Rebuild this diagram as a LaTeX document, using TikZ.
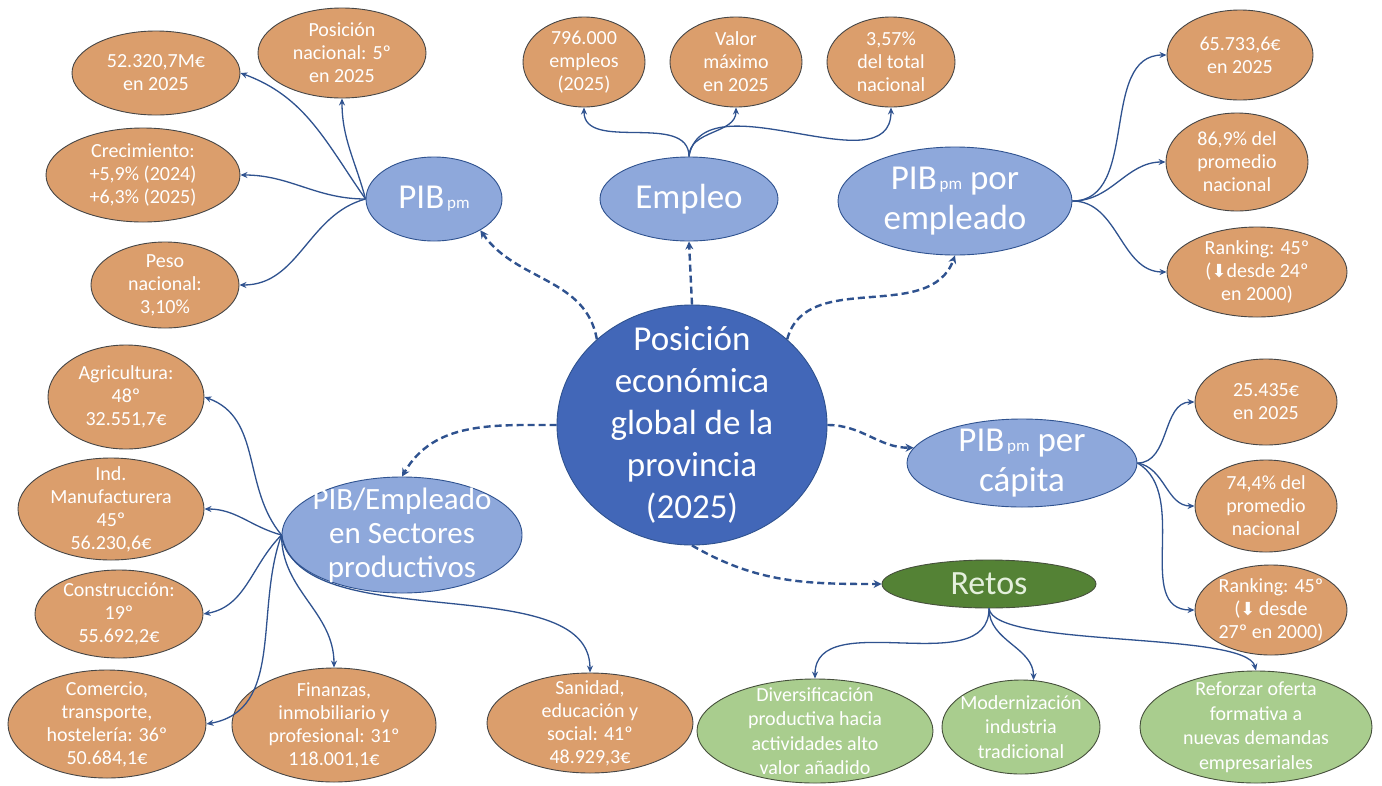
\documentclass[tikz,border=0pt]{standalone}
\usepackage{fontspec}
\setmainfont{Carlito}
\newfontfamily\djv{DejaVu Sans}
\usetikzlibrary{shapes.geometric,arrows.meta}
\definecolor{ofill}{RGB}{219,158,108}
\definecolor{odraw}{RGB}{70,70,70}
\definecolor{bfill}{RGB}{142,168,219}
\definecolor{cfill}{RGB}{66,103,184}
\definecolor{bdraw}{RGB}{47,82,143}
\definecolor{gdark}{RGB}{84,130,53}
\definecolor{glight}{RGB}{169,205,142}
\definecolor{gdraw}{RGB}{70,80,60}
\definecolor{gtext}{RGB}{228,240,220}
\definecolor{lnc}{RGB}{47,82,143}
\newcommand{\pmsub}{{\fontsize{17}{17}\selectfont\,pm}}
\tikzset{
  sz/.style 2 args={minimum width=#1, minimum height=#2},
  base/.style={ellipse, inner sep=-40pt, align=center, line width=0.9pt},
  orn/.style={base, draw=odraw, fill=ofill, text=white, font=\fontsize{20}{23}\selectfont},
  grn/.style={base, draw=gdraw, fill=glight, text=white, font=\fontsize{20}{24.5}\selectfont},
  lvl/.style={base, draw=bdraw, fill=bfill, text=white, font=\fontsize{35}{40}\selectfont},
  ctr/.style={base, draw=bdraw, fill=cfill, text=white, font=\fontsize{35}{42}\selectfont},
  rts/.style={base, draw=gdraw, fill=gdark, text=gtext, font=\fontsize{34}{40}\selectfont},
  con/.style={draw=lnc, line width=1.3pt, -{Stealth[length=7pt,width=6pt]}},
  dsh/.style={draw=lnc, line width=2.4pt, dash pattern=on 7pt off 4pt, -{Stealth[length=8pt,width=8pt]}},
}
\begin{document}
\begin{tikzpicture}[x=1pt,y=-1pt]
\useasboundingbox (0,0) rectangle (1382,785);
\fill[white] (0,0) rectangle (1382,785);

% level nodes
\node[ctr, sz={270}{240}] (c) at (692,425) {Posición\\económica\\global de la\\provincia\\(2025)};
\node[lvl, sz={136}{84}] (pib) at (434,199) {PIB\pmsub};
\node[lvl, sz={178}{84}] (emp) at (689,199) {Empleo};
\node[lvl, sz={234}{108}] (ppe) at (955,201) {PIB\pmsub{} por\\empleado};
\node[lvl, sz={230}{88}] (pc) at (1022,463) {PIB\pmsub{} per\\cápita};
\node[lvl, sz={240}{116}, font=\fontsize{31}{34}\selectfont] (sec) at (402,535) {PIB/Empleado\\en Sectores\\productivos};
\node[rts, sz={214}{48}] (ret) at (989,584) {Retos};

% PIB pm children
\node[orn, sz={168}{84}] (n52) at (156,73) {52.320,7M€\\en 2025};
\node[orn, sz={168}{90}] (npos) at (342,53) {Posición\\nacional: 5º\\en 2025};
\node[orn, sz={194}{94}] (ncre) at (143,175) {Crecimiento:\\+5,9\% (2024)\\+6,3\% (2025)};
\node[orn, sz={148}{86}] (npes) at (165,285) {Peso\\nacional:\\3,10\%};

% Empleo children
\node[orn, sz={122}{90}] (n796) at (584,62) {796.000\\empleos\\(2025)};
\node[orn, sz={132}{90}] (nval) at (736,62) {Valor\\máximo\\en 2025};
\node[orn, sz={128}{90}] (n357) at (891,62) {3,57\%\\del total\\nacional};

% PIB por empleado children
\node[orn, sz={146}{90}] (n657) at (1240,55) {65.733,6€\\en 2025};
\node[orn, sz={142}{98}] (n869) at (1237,162) {86,9\% del\\promedio\\nacional};
\node[orn, sz={180}{90}] (nrk1) at (1257,272) {Ranking: 45º\\({\djv\fontsize{18}{18}\selectfont ⬇}desde 24º\\en 2000)};

% per capita children
\node[orn, sz={142}{86}] (n254) at (1266,402) {25.435€\\en 2025};
\node[orn, sz={142}{92}] (n744) at (1266,506) {74,4\% del\\promedio\\nacional};
\node[orn, sz={152}{90}] (nrk2) at (1271,610) {Ranking: 45º\\({\djv\fontsize{18}{18}\selectfont ⬇}\,desde\\27º en 2000)};

% sectores children
\node[orn, sz={156}{104}] (agr) at (126,397) {Agricultura:\\48º\\32.551,7€};
\node[orn, sz={186}{102}] (man) at (111,509) {Ind.\\Manufacturera\\45º\\56.230,6€};
\node[orn, sz={168}{88}] (cns) at (119,614) {Construcción:\\19º\\55.692,2€};
\node[orn, sz={198}{108}] (com) at (107,724) {Comercio,\\transporte,\\hostelería: 36º\\50.684,1€};
\node[orn, sz={204}{114}] (fin) at (334,725) {Finanzas,\\inmobiliario y\\profesional: 31º\\118.001,1€};
\node[orn, sz={206}{100}] (san) at (590,723) {Sanidad,\\educación y\\social: 41º\\48.929,3€};

% retos children
\node[grn, sz={236}{104}] (div) at (815,731) {Diversificación\\productiva hacia\\actividades alto\\valor añadido};
\node[grn, sz={158}{94}] (mod) at (1021,727) {Modernización\\industria\\tradicional};
\node[grn, sz={232}{112}] (refz) at (1256,727) {Reforzar oferta\\formativa a\\nuevas demandas\\empresariales};

% dashed connectors from centre
\draw[dsh] (c.138) to[out=100,in=-55] (pib.-34);
\draw[dsh] (c.north) -- (emp.south);
\draw[dsh] (c.42) to[out=75,in=-110] (ppe.south);
\draw[dsh] (c.east) to[out=0,in=180] (pc.172);
\draw[dsh] (c.south) to[out=-30,in=180] (ret.west);
\draw[dsh] (c.west) to[out=180,in=60] (sec.north);

% PIB pm
\draw[con] (pib.west) to[out=125,in=-20] (n52.east);
\draw[con] (pib.west) to[out=105,in=-90] (npos.south);
\draw[con] (pib.west) to[out=180,in=0] (ncre.east);
\draw[con] (pib.west) to[out=-165,in=0] (npes.east);

% Empleo
\draw[con] (emp.north) to[out=90,in=-90] (n796.south);
\draw[con] (emp.north) to[out=90,in=-90] (nval.south);
\draw[con] (emp.north) to[out=80,in=-90] (n357.south);

% PIB por empleado
\draw[con] (ppe.east) to[out=0,in=180] (n657.west);
\draw[con] (ppe.east) to[out=0,in=180] (n869.west);
\draw[con] (ppe.east) to[out=0,in=180] (nrk1.west);

% per capita
\draw[con] (pc.east) to[out=0,in=180] (n254.west);
\draw[con] (pc.east) to[out=-10,in=180] (n744.west);
\draw[con] (pc.east) to[out=-30,in=180] (nrk2.west);

% sectores
\draw[con] (sec.west) to[out=130,in=-20] (agr.east);
\draw[con] (sec.west) to[out=165,in=0] (man.east);
\draw[con] (sec.west) to[out=-135,in=10] (cns.east);
\draw[con] (sec.west) to[out=-110,in=10] (com.east);
\draw[con] (sec.west) to[out=-90,in=90] (fin.north);
\draw[con] (sec.west) to[out=-80,in=90, looseness=0.8] (san.north);

% retos
\draw[con] (ret.south) to[out=-90,in=90] (div.north);
\draw[con] (ret.south) to[out=-90,in=90] (mod.75);
\draw[con] (ret.south) .. controls +(5,40) and +(-10,-40) .. (refz.north);
\end{tikzpicture}
\end{document}
